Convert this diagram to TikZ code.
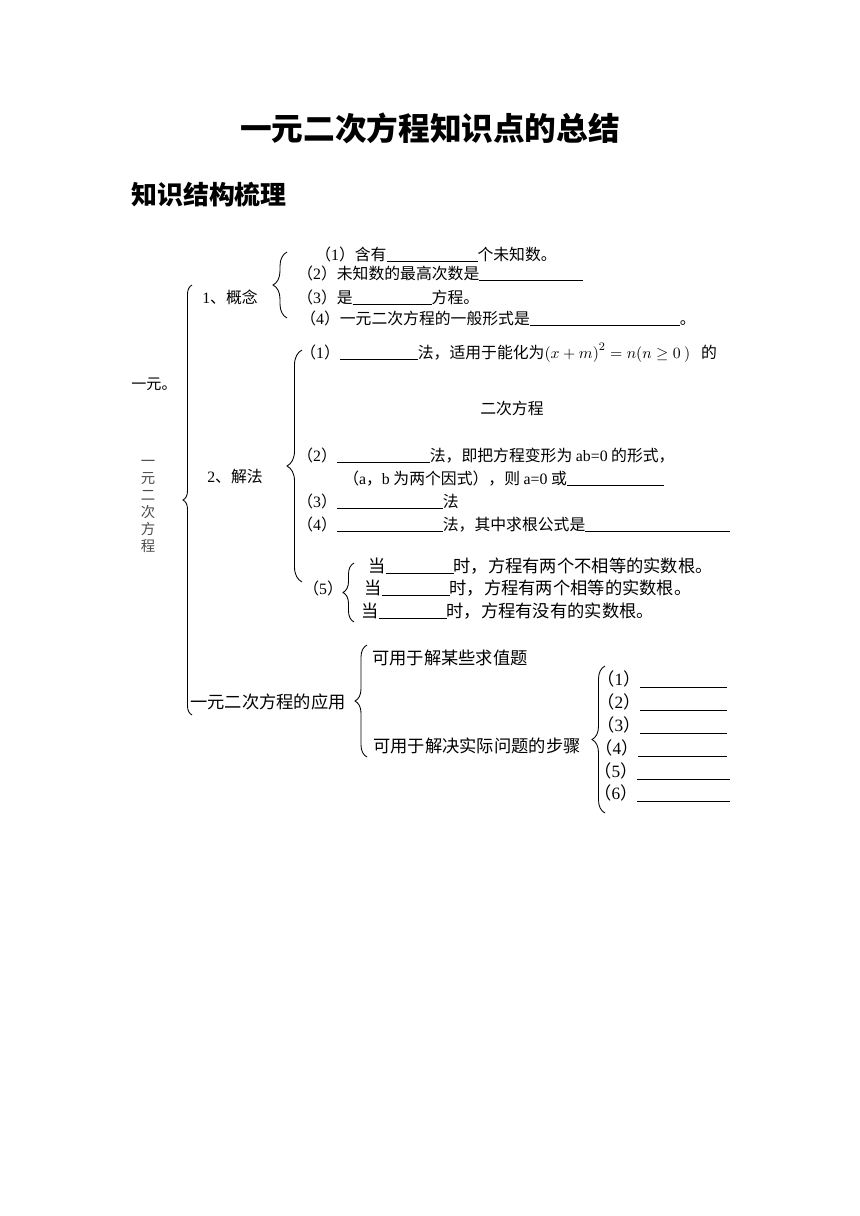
\documentclass[tikz,border=0pt]{standalone}
\usepackage{fontspec}
\setmainfont{Noto Sans CJK SC}
\newfontfamily\latfont{Liberation Serif}
\usetikzlibrary{decorations.pathreplacing}
\newlength\pxu
\setlength\pxu{0.24419mm}
\newcommand\blank[1]{\rule[-0.5mm]{#1\pxu}{0.4pt}}
\newcommand\en[1]{{\latfont #1}}
\newcommand\nbr[1]{（\en{#1}）}

\begin{document}
\begin{tikzpicture}[x=0.24419mm, y=-0.24419mm,
        txt/.style={anchor=base west, inner sep=0pt, font=\fontsize{11}{13}\selectfont},
        big/.style={anchor=base west, inner sep=0pt, font=\fontsize{12}{14}\selectfont},
        brc/.style={decorate, decoration={brace, amplitude=#1}, line width=0.6pt},
    ]
        \useasboundingbox (0,0) rectangle (860,1216);

        % Title
        \node[inner sep=0pt, font=\fontsize{22}{26}\selectfont\bfseries] (title) at (430,128) {一元二次方程知识点的总结};
        \node[anchor=west, inner sep=0pt, font=\fontsize{18}{22}\selectfont\bfseries] (head) at (131,195) {知识结构梳理};

        % Root
        \node[txt, font=\fontsize{10.5}{12}\selectfont] (root) at (131,389) {一元。};
        \node[inner sep=0pt, align=center, font=\fontsize{10}{11.8}\selectfont, text=black!70] (vert) at (148,506) {一\\元\\二\\次\\方\\程};
        \coordinate (all-b) at (192,715);
        \coordinate (all-t) at (192,285);
        \draw[brc=9\pxu] (all-b) -- (all-t);

        % 1 concept
        \node[txt] (gn) at (202,303) {\en{1}、概念};
        \coordinate (gn-b) at (287,318);
        \coordinate (gn-t) at (287,252);
        \draw[brc=14\pxu] (gn-b) -- (gn-t);
        \node[txt] (gn-1) at (315,260) {\nbr{1}含有\blank{91}个未知数。};
        \node[txt] (gn-2) at (297,279) {\nbr{2}未知数的最高次数是\blank{104}};
        \node[txt] (gn-3) at (297,303) {\nbr{3}是\blank{79}方程。};
        \node[txt] (gn-4) at (300,324) {\nbr{4}一元二次方程的一般形式是\blank{150}。};

        % 2 methods
        \node[txt] (jf) at (207,482) {\en{2}、解法};
        \coordinate (jf-b) at (302,582);
        \coordinate (jf-t) at (302,350);
        \draw[brc=15\pxu] (jf-b) -- (jf-t);
        \node[txt] (jf-1) at (300,358) {\nbr{1}\blank{78}法，适用于能化为$\bigl(x+m\bigr)^{2}=n\bigl(n\geq 0\ \bigr)$\ \ \ 的};
        \node[txt] (jf-1b) at (480,414) {二次方程};
        \node[txt] (jf-2) at (297,461) {\nbr{2}\blank{93}法，即把方程变形为 \en{ab=0} 的形式，};
        \node[txt] (jf-2b) at (343,484) {（\en{a}，\en{b} 为两个因式），则 \en{a=0} 或\blank{97}};
        \node[txt] (jf-3) at (297,507) {\nbr{3}\blank{106}法};
        \node[txt] (jf-4) at (297,530) {\nbr{4}\blank{106}法，其中求根公式是\blank{145}};

        % (5) discriminant
        \node[txt] (jf-5) at (303,594) {\nbr{5}};
        \coordinate (jf5-b) at (354,622);
        \coordinate (jf5-t) at (354,563);
        \draw[brc=11\pxu] (jf5-b) -- (jf5-t);
        \node[big] (dd-1) at (368,572) {当\blank{68}时，方程有两个不相等的实数根。};
        \node[big] (dd-2) at (364,594) {当\blank{68}时，方程有两个相等的实数根。};
        \node[big] (dd-3) at (361,617) {当\blank{68}时，方程有没有的实数根。};

        % 3 application
        \node[big] (yy) at (190,708) {一元二次方程的应用};
        \coordinate (yy-b) at (367,757);
        \coordinate (yy-t) at (367,645);
        \draw[brc=12\pxu] (yy-b) -- (yy-t);
        \node[big] (yy-1) at (372,664) {可用于解某些求值题};
        \node[big] (yy-2) at (373,752) {可用于解决实际问题的步骤};
        \coordinate (bz-b) at (605,813);
        \coordinate (bz-t) at (605,666);
        \draw[brc=13\pxu] (bz-b) -- (bz-t);
        \foreach \i/\y/\x/\w in {1/679/597/87, 2/702/597/87, 3/725/597/87,
                                 4/748/595/89, 5/771/594/93, 6/793/594/93}
            \node[big] (bz-\i) at (\x,\y+6.5) {\nbr{\i}\blank{\w}};
    \end{tikzpicture}
\end{document}
